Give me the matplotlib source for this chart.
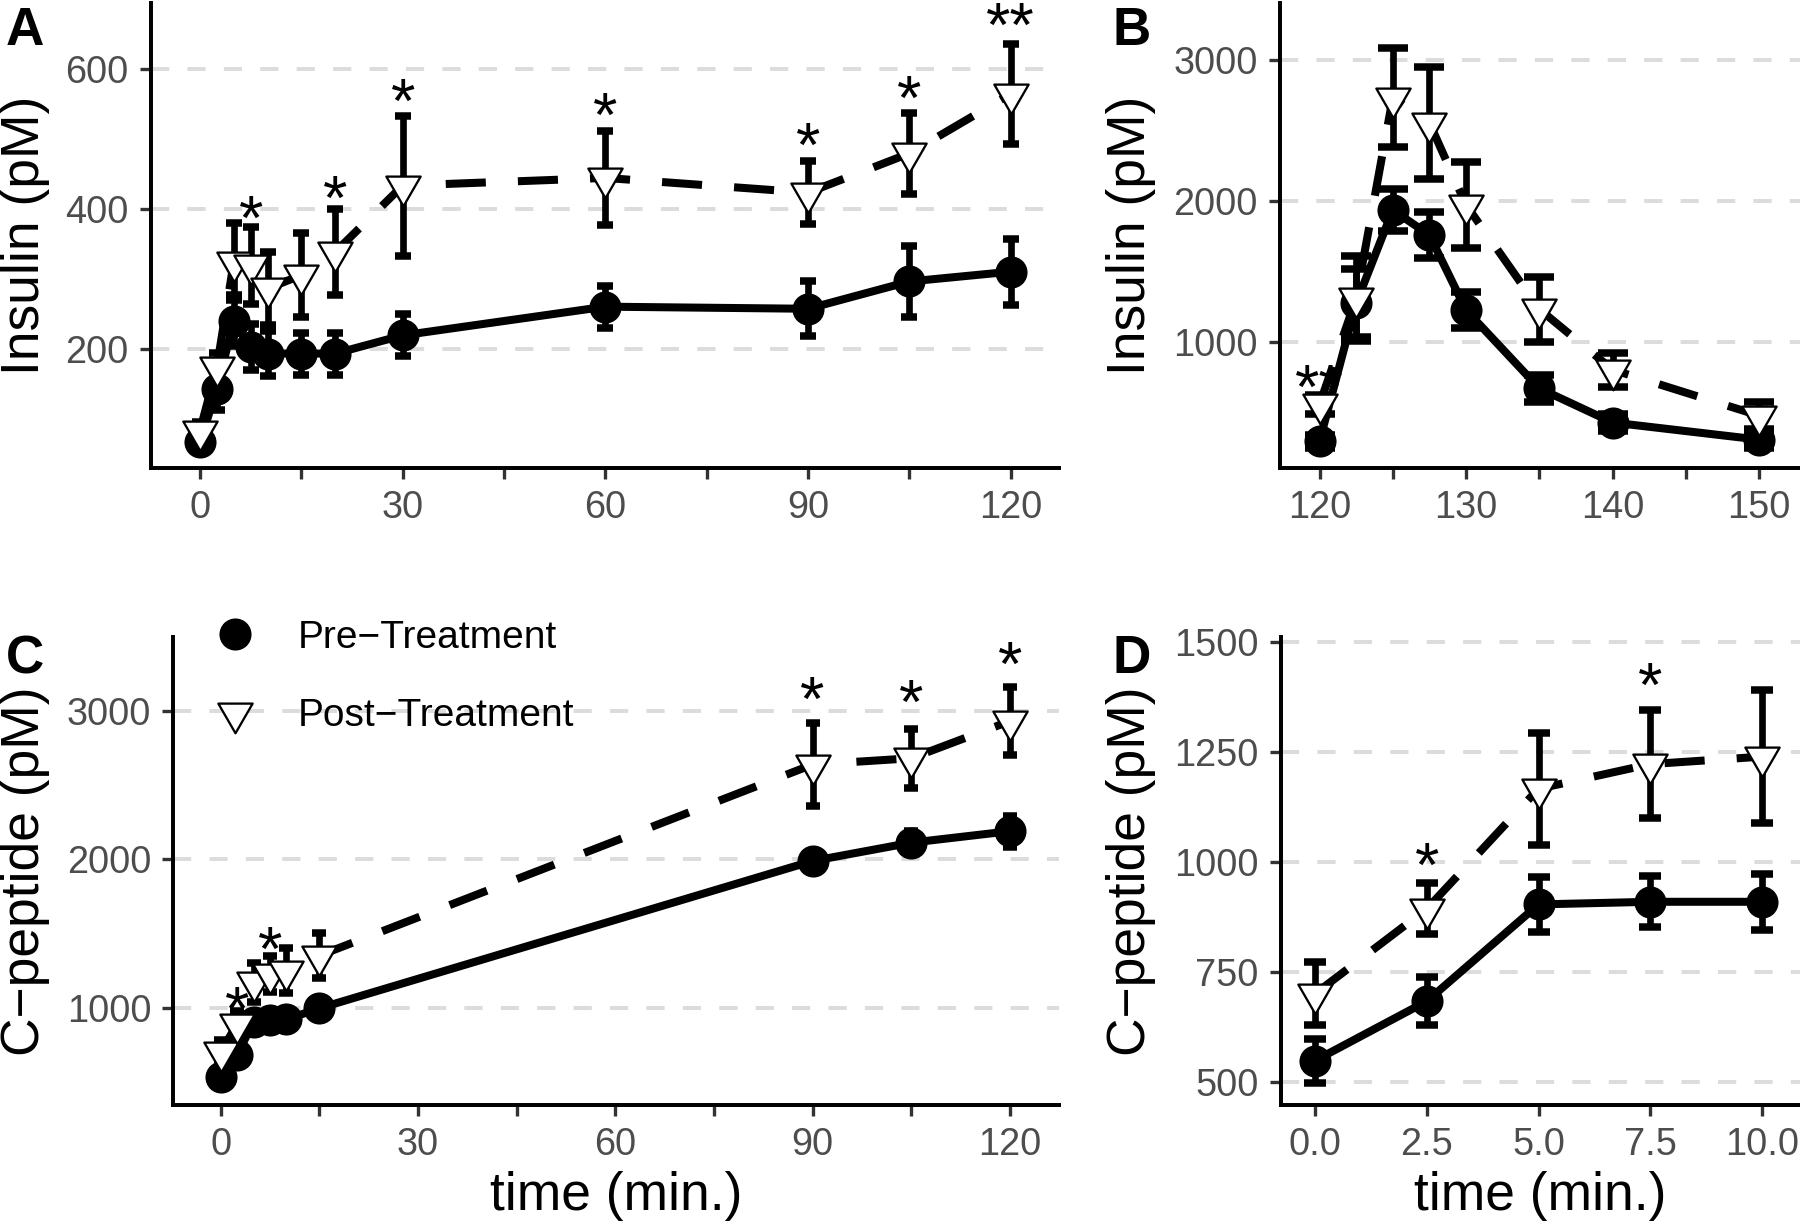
import matplotlib
matplotlib.use('Agg')
import matplotlib.pyplot as plt
import matplotlib.transforms as mtransforms
from matplotlib.path import Path
from matplotlib.lines import Line2D

plt.rcParams['font.family'] = ['Liberation Sans', 'DejaVu Sans']

# ---- data (mean +/- SE) ----
# A: insulin, 0-120 min
time_a = [0, 2.5, 5, 7.5, 10, 15, 20, 30, 60, 90, 105, 120]
pre_a = [67, 144, 241, 203, 194, 194, 194, 220, 261, 258, 297, 311]
pre_a_se = [10, 30, 36, 33, 32, 30, 30, 30, 30, 39, 51, 47]
post_a = [84, 175, 325, 320, 287, 306, 339, 434, 445, 424, 480, 565]
post_a_se = [12, 20, 55, 55, 52, 60, 62, 100, 67, 45, 58, 71]
star_a_x = [7.5, 20, 30, 60, 90, 105, 120]
star_a_y = [410, 438, 577, 557, 514, 582, 686]
star_a_lab = ['*', '*', '*', '*', '*', '*', '**']

# B: insulin, 120-150 min
time_b = [120, 122.5, 125, 127.5, 130, 135, 140, 150]
pre_b = [300, 1276, 1936, 1759, 1228, 674, 432, 311]
pre_b_se = [45, 240, 148, 160, 125, 95, 60, 60]
post_b = [560, 1310, 2732, 2553, 1972, 1235, 806, 481]
post_b_se = [70, 300, 350, 395, 305, 230, 120, 95]
star_b_x = [120]
star_b_y = [790]
star_b_lab = ['**']

# C: C-peptide, 0-120 min
time_c = [0, 2.5, 5, 7.5, 10, 15, 90, 105, 120]
pre_c = [540, 686, 910, 920, 925, 1000, 1990, 2113, 2190]
pre_c_se = [40, 45, 40, 40, 40, 45, 60, 75, 105]
post_c = [704, 894, 1175, 1231, 1253, 1354, 2638, 2680, 2930]
post_c_se = [80, 90, 130, 120, 150, 150, 280, 200, 230]
star_c_x = [2.5, 7.5, 90, 105, 120]
star_c_y = [1100, 1503, 3179, 3163, 3417]
star_c_lab = ['*'] * 5

# D: C-peptide, 0-10 min
time_d = [0, 2.5, 5, 7.5, 10]
pre_d = [548, 683, 903, 909, 909]
pre_d_se = [50, 55, 63, 58, 63]
post_d = [700, 893, 1166, 1222, 1239]
post_d_se = [72, 58, 127, 122, 151]
star_d_x = [2.5, 7.5]
star_d_y = [1027, 1436]
star_d_lab = ['*', '*']

W, H = 1800, 1225
fig = plt.figure(figsize=(W / 150, H / 150), dpi=150)

TICK_FS = 18.2
TITLE_FS = 25.6
STAR_FS = 30
LW = 3.85

# downward triangle centred on its centroid (like R pch 6)
tri = Path([(0, -1), (-0.866, 0.5), (0.866, 0.5), (0, -1)],
           [Path.MOVETO, Path.LINETO, Path.LINETO, Path.CLOSEPOLY])


def add_panel(x0, x1, ytop, ybot):
    return fig.add_axes([x0 / W, 1 - ybot / H, (x1 - x0) / W, (ybot - ytop) / H])


def draw_panel(ax, t, pre, pre_se, post, post_se, cap):
    ax.plot(t, pre, color='black', lw=LW, solid_joinstyle='round', zorder=2)
    ax.plot(t, post, color='black', lw=LW, dashes=(5, 4), zorder=2)
    for y, e in [(pre, pre_se), (post, post_se)]:
        ax.errorbar(t, y, yerr=e, fmt='none', ecolor='black', elinewidth=3.2,
                    capsize=cap, capthick=3.6, zorder=3)
    ax.plot(t, pre, linestyle='none', marker='o', ms=14.4, color='black', zorder=4)
    ax.plot(t, post, linestyle='none', marker=tri, ms=19, mfc='white',
            mec='black', mew=1.1, zorder=5)


def add_stars(ax, xs, ys, labs):
    trans = mtransforms.offset_copy(ax.transData, fig=fig, y=-0.58 * STAR_FS, units='points')
    for x, y, s in zip(xs, ys, labs):
        ax.text(x, y, s, transform=trans, ha='center', va='baseline',
                fontsize=STAR_FS, clip_on=False, zorder=1.5)


def style(ax, xlim, ylim, xmajor, xlabels, xminor, yticks, ylabel, label_x, xlabel=None):
    ax.set_xlim(xlim)
    ax.set_ylim(ylim)
    ax.set_xticks(xmajor)
    ax.set_xticklabels(xlabels)
    ax.set_xticks(xminor, minor=True)
    ax.set_yticks(yticks)
    ax.set_yticklabels([str(v) for v in yticks])
    for side in ['top', 'right']:
        ax.spines[side].set_visible(False)
    for side in ['left', 'bottom']:
        ax.spines[side].set_linewidth(1.9)
        ax.spines[side].set_color('black')
    ax.tick_params(which='both', length=5.1, width=1.6, color='#333333', direction='out')
    ax.tick_params(labelsize=TICK_FS, labelcolor='#4D4D4D', pad=5.5)
    ax.grid(axis='y', which='major', color='#DCDCDC', lw=1.9, linestyle=(0, (4.6, 4.6)))
    ax.set_axisbelow(True)
    ax.set_ylabel(ylabel, fontsize=TITLE_FS)
    ax.yaxis.label.set_va('center')
    ax.yaxis.set_label_coords(label_x / W, 0.5,
                              transform=mtransforms.blended_transform_factory(fig.transFigure, ax.transAxes))
    if xlabel:
        ax.set_xlabel(xlabel, fontsize=TITLE_FS)
        ax.xaxis.label.set_va('center')
        ax.xaxis.set_label_coords(0.5, 1 - 1196 / H,
                                  transform=mtransforms.blended_transform_factory(ax.transAxes, fig.transFigure))


ax_a = add_panel(150.7, 1059.3, 3, 468.3)
ax_b = add_panel(1280, 1800, 3, 468.3)
ax_c = add_panel(173.3, 1059.3, 637, 1105)
ax_d = add_panel(1280.7, 1800, 637, 1105)

draw_panel(ax_a, time_a, pre_a, pre_a_se, post_a, post_a_se, 4.0)
draw_panel(ax_b, time_b, pre_b, pre_b_se, post_b, post_b_se, 7.4)
draw_panel(ax_c, time_c, pre_c, pre_c_se, post_c, post_c_se, 3.2)
draw_panel(ax_d, time_d, pre_d, pre_d_se, post_d, post_d_se, 5.4)

add_stars(ax_a, star_a_x, star_a_y, star_a_lab)
add_stars(ax_b, star_b_x, star_b_y, star_b_lab)
add_stars(ax_c, star_c_x, star_c_y, star_c_lab)
add_stars(ax_d, star_d_x, star_d_y, star_d_lab)

long_major = [0, 30, 60, 90, 120]
long_minor = [15, 45, 75, 105]
style(ax_a, (-7.3, 127.2), (30, 695), long_major, [str(v) for v in long_major], long_minor,
      [200, 400, 600], 'Insulin (pM)', 25)
style(ax_b, (117.3, 152.8), (108, 3401), [120, 130, 140, 150], ['120', '130', '140', '150'],
      [125, 135, 145], [1000, 2000, 3000], 'Insulin (pM)', 1131)
style(ax_c, (-7.2, 127.5), (350, 3495), long_major, [str(v) for v in long_major], long_minor,
      [1000, 2000, 3000], 'C\u2212peptide (pM)', 25, 'time (min.)')
d_major = [0, 2.5, 5, 7.5, 10]
style(ax_d, (-0.77, 10.85), (447, 1511), d_major, ['%.1f' % v for v in d_major], [],
      [500, 750, 1000, 1250, 1500], 'C\u2212peptide (pM)', 1131, 'time (min.)')

# panel letters
for lab, x, y in [('A', 6, 6), ('B', 1113, 6), ('C', 6, 634), ('D', 1113, 634)]:
    fig.text(x / W, 1 - y / H, lab, fontsize=25.5, fontweight='bold', va='top', ha='left')

# legend
h_pre = Line2D([], [], linestyle='none', marker='o', ms=14.4, color='black')
h_post = Line2D([], [], linestyle='none', marker=tri, ms=19, mfc='white', mec='black', mew=1.1)
fig.legend([h_pre, h_post], ['Pre\u2212Treatment', 'Post\u2212Treatment'],
           loc='center left', bbox_to_anchor=(204 / W, 1 - 677 / H),
           frameon=False, fontsize=18.7, handlelength=1.6, handletextpad=0.81,
           labelspacing=1.1, borderpad=0, borderaxespad=0)

fig.savefig('out.png', dpi=150)
